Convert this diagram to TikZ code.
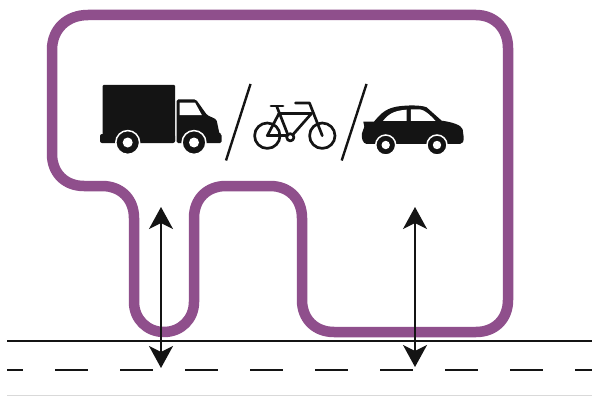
\documentclass[tikz,border=0pt]{standalone}
\usetikzlibrary{arrows.meta}
\definecolor{zonepurple}{RGB}{143,79,140}
\definecolor{ink}{RGB}{20,20,20}
\tikzset{
  zone/.style={draw=zonepurple,line width=10.5pt,line join=round},
  roadline/.style={draw=ink,line width=1.8pt},
  roaddash/.style={draw=ink,line width=1.8pt,dash pattern=on 33pt off 32pt,dash phase=17pt},
  reach/.style={draw=ink,line width=1.7pt,{Stealth[length=22pt,width=24pt,inset=6pt]}-{Stealth[length=22pt,width=24pt,inset=6pt]}},
  slash/.style={draw=ink,line width=2.4pt},
  solid ink/.style={fill=ink,draw=none},
  bikeline/.style={draw=ink,line width=2.7pt,line cap=round,line join=round},
  tyre/.style={fill=ink,draw=white,line width=1.5pt},
  hub/.style={fill=white,draw=none}
}
\begin{document}
\begin{tikzpicture}[x=1pt,y=-1pt]
\useasboundingbox (0,0) rectangle (592,396);
\fill[white] (0,0) rectangle (592,396);
% faint bottom edge
\draw[black!15,line width=0.8pt] (7,395) -- (592,395);
% road
\coordinate (roadL) at (7,341); \coordinate (roadR) at (592,341);
\coordinate (dashL) at (7,370); \coordinate (dashR) at (592,370);
% zone outline
\draw[zone] (84,186) -- (102,186)
  .. controls (121,186) and (134,199) .. (134,218)
  -- (134,302)
  .. controls (134,319) and (147,332) .. (164,332)
  .. controls (181,332) and (194,319) .. (194,302)
  -- (194,218)
  .. controls (194,199) and (207,186) .. (226,186)
  -- (270,186)
  .. controls (289,186) and (302,199) .. (302,218)
  -- (302,300)
  .. controls (302,319) and (315,332) .. (334,332)
  -- (476,332)
  .. controls (495,332) and (508,319) .. (508,300)
  -- (508,48)
  .. controls (508,29) and (495,15) .. (476,15)
  -- (88,15)
  .. controls (67,15) and (52,29) .. (52,50)
  -- (52,154)
  .. controls (52,173) and (65,186) .. (84,186) -- cycle;
\draw[roadline] (roadL) -- (roadR);
\draw[roaddash] (dashL) -- (dashR);
% arrows
\coordinate (a1t) at (161,207); \coordinate (a1b) at (161,368);
\coordinate (a2t) at (415,207); \coordinate (a2b) at (415,367);
\draw[reach] (a1b) -- (a1t);
\draw[reach] (a2b) -- (a2t);
% truck
\fill[solid ink,rounded corners=1pt] (102.5,85) rectangle (175,142);
\fill[solid ink,rounded corners=2pt] (100,134) rectangle (175,143);
\fill[solid ink,rounded corners=1.5pt] (176.5,99.5) -- (196,99.5) -- (207,115) -- (216.5,119.5)
  -- (219.5,134) -- (221.5,134) -- (221.5,143) -- (176.5,143) -- cycle;
\fill[white] (179.5,102.5) -- (195,102.5) -- (201.8,115) -- (179.5,115) -- cycle;
\foreach \cx in {127.7,194}{
  \filldraw[tyre] (\cx,142.5) circle (11.9);
  \fill[hub] (\cx,142.5) circle (5);
}
% slashes
\coordinate (s1a) at (226,160.5); \coordinate (s1b) at (250.5,84);
\coordinate (s2a) at (341.7,160.5); \coordinate (s2b) at (366.5,84);
\draw[slash] (s1a) -- (s1b);
\draw[slash] (s2a) -- (s2b);
% bicycle
\draw[bikeline] (267.3,135.7) circle (12.7);
\draw[bikeline] (322.3,135.7) circle (12.7);
\draw[bikeline] (290.3,137.3) circle (3.6);
\draw[bikeline] (271,106) -- (283,106);
\draw[bikeline] (277,107) -- (288,135);
\draw[bikeline] (279,113.5) -- (311.5,113.5) -- (293,134.5);
\draw[bikeline] (267.3,135.7) -- (279,113.5);
\draw[bikeline] (267.3,135.7) -- (286.5,135.7);
\draw[bikeline] (295.5,103) -- (309.5,103) -- (322.3,135.7);
% car
\begin{scope}[shift={(230,70)},x=0.3333pt,y=-0.3333pt]
\fill[solid ink] (400,155) -- (432,155) .. controls (455,128) and (470,112) .. (515,108)
  .. controls (545,105) and (575,106) .. (590,112) -- (635,152)
  .. controls (665,156) and (695,165) .. (698,178) -- (701,200)
  .. controls (702,215) and (698,222) .. (690,222) -- (410,222)
  .. controls (398,220) and (394,205) .. (396,190) -- (403,170) -- cycle;
\fill[white] (459,153) .. controls (475,133) and (490,122) .. (530,119) -- (530,153) -- cycle;
\fill[white] (543,118) -- (570,118) .. controls (585,120) and (600,135) .. (617,153) -- (543,153) -- cycle;
\end{scope}
\foreach \cx in {385.7,437}{
  \filldraw[tyre] (\cx,145) circle (10);
  \fill[hub] (\cx,145) circle (4.2);
}
\end{tikzpicture}
\end{document}
